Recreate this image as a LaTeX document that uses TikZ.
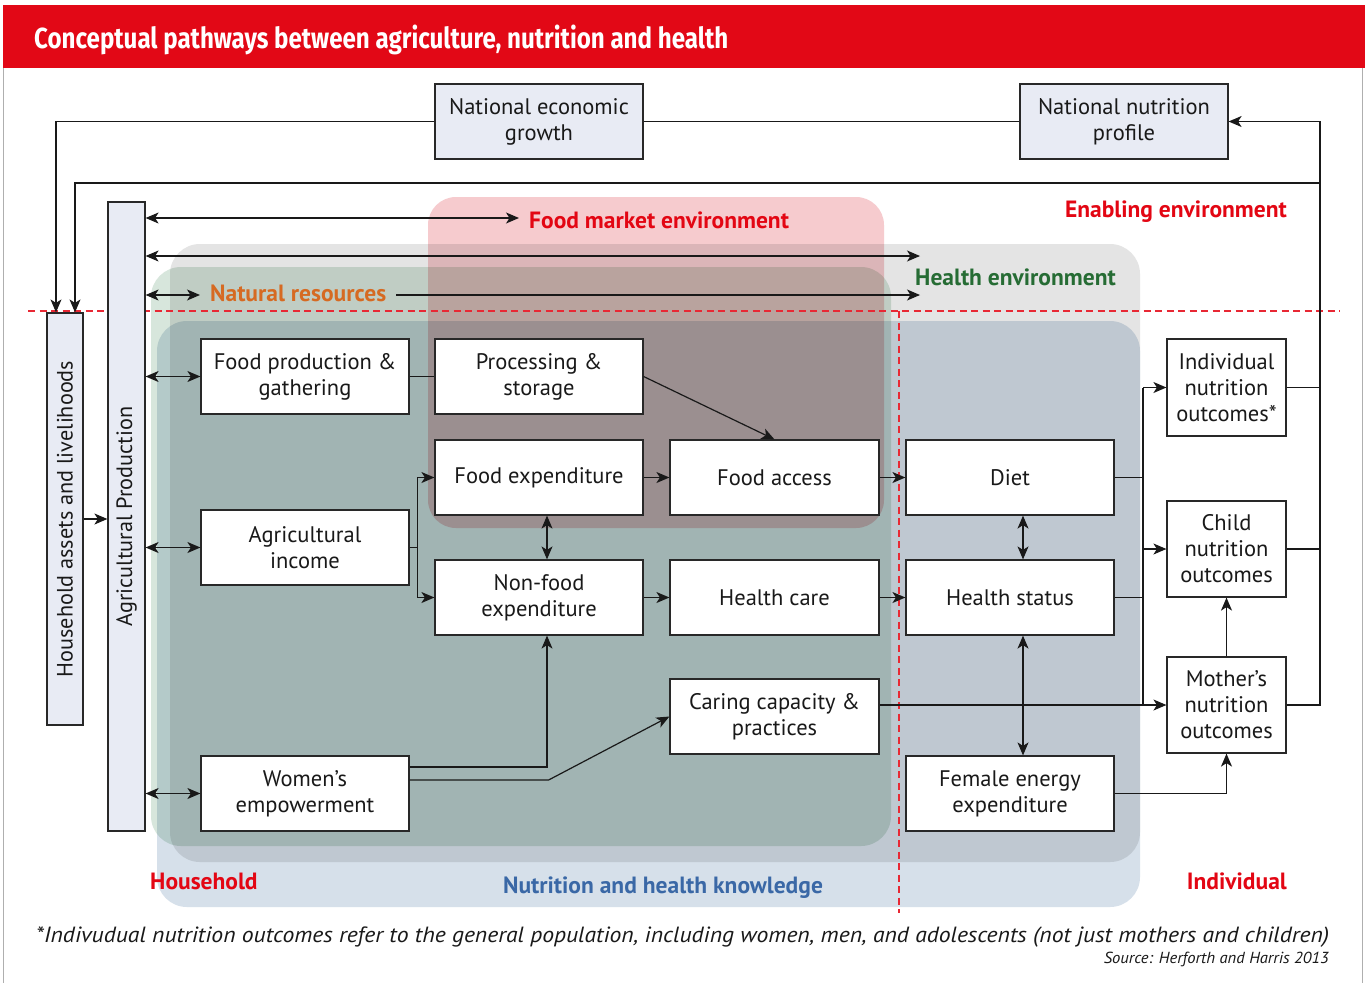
\documentclass[tikz,border=0pt]{standalone}
\usepackage{fontspec}
\setmainfont{PT Sans}
\newfontfamily\titlefont{Fira Sans}
\usetikzlibrary{arrows.meta}

\definecolor{hdrred}{RGB}{226,8,22}
\definecolor{keyred}{RGB}{227,6,19}
\definecolor{keygreen}{RGB}{38,108,52}
\definecolor{keyorange}{RGB}{214,106,34}
\definecolor{keyblue}{RGB}{58,104,166}
\definecolor{lav}{RGB}{232,235,244}
\definecolor{boxline}{RGB}{40,40,40}
\definecolor{ink}{RGB}{25,25,25}
\definecolor{framegray}{RGB}{175,175,175}
\definecolor{envgray}{RGB}{228,228,228}
\definecolor{envgreen}{RGB}{215,230,220}
\definecolor{envblue}{RGB}{214,224,234}
\definecolor{envpink}{RGB}{246,203,206}
\definecolor{dashred}{RGB}{232,40,52}

\begin{document}
\begin{tikzpicture}[x=1pt,y=-1pt,
  every node/.style={text=ink},
  box/.style={draw=boxline, line width=1.2pt, fill=white, align=center, inner sep=0pt,
    minimum width=208pt, minimum height=75pt, font=\fontsize{22.5}{26}\selectfont},
  lavbox/.style={box, fill=lav},
  outbox/.style={box, minimum width=119pt, minimum height=96pt},
  sidetext/.style={rotate=90, inner sep=0pt, font=\fontsize{22.2}{26}\selectfont},
  tip/.tip={Stealth[length=13pt,width=11pt,inset=3.5pt]},
  link/.style={draw=ink, line width=1.2pt},
  arr/.style={link, -tip},
  darr/.style={link, tip-tip},
  region/.style={rounded corners=30pt, blend mode=multiply},
  envlabel/.style={inner sep=0pt, font=\fontsize{23.5}{26}\selectfont\bfseries},
  divider/.style={draw=dashred, line width=1.2pt, dash pattern=on 7pt off 4.5pt},
]
\useasboundingbox[fill=white] (0,0) rectangle (1365,983);

% header bar and frame
\fill[hdrred] (3,5) rectangle (1365,68);
\draw[framegray, line width=1pt] (3.5,68) -- (3.5,983) (1362.5,68) -- (1362.5,983);
\node[anchor=base west, inner sep=0pt, text=white, font=\titlefont\bfseries\fontsize{29}{32}\selectfont]
  (title) at (34,48) {\resizebox{694pt}{\height}{Conceptual pathways between agriculture, nutrition and health}};

% overlapping environments (multiplied tints)
\fill[region, envgray]  (170,244) rectangle (1140,862);
\fill[region, envgreen] (151,267) rectangle (891,846);
\fill[region, envblue]  (157,321) rectangle (1140,907);
\fill[region, envpink, rounded corners=28pt] (428,197) rectangle (884,528);

% household / individual dividers
\draw[divider] (28,311) -- (1340,311);
\draw[divider] (899,311) -- (899,913);

% boxes
\node[lavbox] (neg) at (539,121.5) {National economic\\growth};
\node[lavbox] (nnp) at (1124,121.5) {National nutrition\\profile};
\node[lavbox, minimum width=36pt, minimum height=412pt] (hal) at (65,519) {};
\node[sidetext] (haltext) at (hal.center) {Household assets and livelihoods};
\node[lavbox, minimum width=37pt, minimum height=629pt] (agp) at (126.5,516.5) {};
\node[sidetext] (agptext) at (agp.center) {Agricultural Production};

\node[box] (fpg) at (305,376.5) {Food production \&\\gathering};
\node[box] (pst) at (539,376.5) {Processing \&\\storage};
\node[box] (fex) at (539,477.5) {Food expenditure};
\node[box, minimum width=209pt] (fac) at (774.5,477.5) {Food access};
\node[box] (diet) at (1010,477.5) {Diet};
\node[box] (ain) at (305,547.5) {Agricultural\\income};
\node[box] (nfe) at (539,597.5) {Non-food\\expenditure};
\node[box, minimum width=209pt] (hca) at (774.5,597.5) {Health care};
\node[box] (hst) at (1010,597.5) {Health status};
\node[box, minimum width=209pt] (ccp) at (774.5,716.5) {Caring capacity \&\\practices};
\node[box] (wem) at (305,793.5) {Women’s\\empowerment};
\node[box] (fee) at (1010,793.5) {Female energy\\expenditure};
\node[outbox, minimum height=97pt] (ino) at (1226.5,387.5) {Individual\\nutrition\\outcomes*};
\node[outbox] (cno) at (1226.5,549) {Child\\nutrition\\outcomes};
\node[outbox] (mno) at (1226.5,705) {Mother’s\\nutrition\\outcomes};

% environment labels
\node[envlabel, text=keyred, anchor=base west] (fmel) at (529,228) {Food market environment};
\node[envlabel, text=keygreen, anchor=base west] (hel) at (915,285) {Health environment};
\node[envlabel, text=keyorange, anchor=base west] (nrl) at (210,301) {Natural resources};
\node[envlabel, text=keyred, anchor=base east] (eel) at (1287,217) {Enabling environment};
\node[envlabel, text=keyred, anchor=base west] (hhl) at (150,889) {Household};
\node[envlabel, text=keyblue, anchor=base] (nhk) at (663,893) {Nutrition and health knowledge};
\node[envlabel, text=keyred, anchor=base east] (indl) at (1287,889) {Individual};

% national level and feedback loop
\draw[link] (neg.east) -- (nnp.west);
\draw[arr] (neg.west) -| ([xshift=-9pt]hal.north);
\coordinate (fb) at (1320,183);
\draw[link] (ino.east) -- (ino.east -| fb);
\draw[link] (cno.east) -- (cno.east -| fb);
\draw[arr] (mno.east) -| (fb) |- (nnp.east);
\draw[arr] (fb) -| ([xshift=10pt]hal.north);
\draw[arr] (hal.east) -- (hal.east -| agp.west);

% agricultural production links to the environments
\coordinate (fmeend) at (519,218);
\coordinate (heend) at (920,256);
\coordinate (nrstart) at (200,295);
\coordinate (nrresume) at (396,295);
\coordinate (nrend) at (920,295);
\draw[darr] (agp.east |- fmeend) -- (fmeend);
\draw[darr] (agp.east |- heend) -- (heend);
\draw[darr] (agp.east |- nrstart) -- (nrstart);
\draw[arr] (nrresume) -- (nrend);

% household pathways
\draw[darr] (agp.east |- fpg.west) -- (fpg.west);
\draw[darr] (agp.east |- ain.west) -- (ain.west);
\draw[darr] (agp.east |- wem.west) -- (wem.west);
\draw[link] (fpg.east) -- (pst.west);
\draw[arr] (pst.east) -- (fac.north);
\draw[link] (ain.east) -- ++(8,0) coordinate (aib);
\draw[arr] (aib) |- (fex.west);
\draw[arr] (aib) |- (nfe.west);
\draw[darr] ([xshift=8pt]fex.south) -- ([xshift=8pt]nfe.north);
\draw[arr] (fex.east) -- (fac.west);
\draw[arr] (fac.east) -- (diet.west);
\draw[arr] (nfe.east) -- (hca.west);
\draw[arr] (hca.east) -- (hst.west);
\draw[darr] ([xshift=13pt]diet.south) -- ([xshift=13pt]hst.north);
\draw[darr] ([xshift=13pt]hst.south) -- ([xshift=13pt]fee.north);
\draw[arr] ([yshift=26.5pt]wem.east) -| ([xshift=8pt]nfe.south);
\draw[arr] ([yshift=13.5pt]wem.east) -- ++(139,0) -- (ccp.west);
\draw[arr] (ccp.east |- mno.west) -- (mno.west);

% individual outcomes
\coordinate (bus) at (1143,0);
\draw[link] (diet.east) -- (diet.east -| bus);
\draw[link] (hst.east) -- (hst.east -| bus);
\draw[link] (bus |- ino.west) -- (bus |- mno.west);
\draw[arr] (bus |- ino.west) -- (ino.west);
\draw[arr] (bus |- cno.west) -- (cno.west);
\draw[arr] (fee.east) -| (mno.south);
\draw[arr] (mno.north) -- (cno.south);

% footnote and source
\node[anchor=base west, inner sep=0pt, font=\itshape\fontsize{22}{24}\selectfont] (note) at (36,942)
  {\resizebox{1293pt}{\height}{*Indivudual nutrition outcomes refer to the general population, including women, men, and adolescents (not just mothers and children)}};
\node[anchor=base east, inner sep=0pt, font=\itshape\fontsize{16}{18}\selectfont] (src) at (1329,963)
  {\resizebox{225pt}{\height}{Source: Herforth and Harris 2013}};
\end{tikzpicture}
\end{document}
